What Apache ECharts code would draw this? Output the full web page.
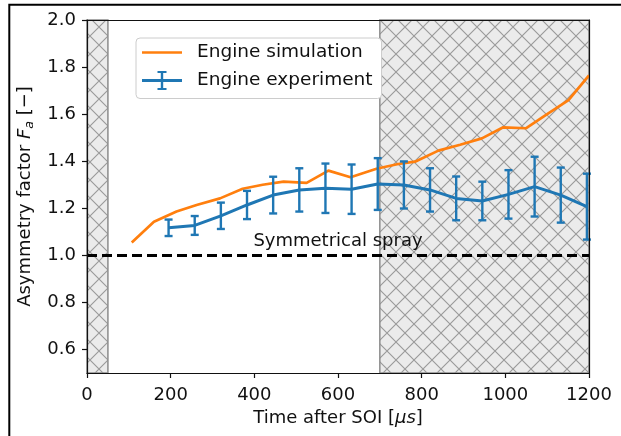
<!DOCTYPE html>
<html>
<head>
<meta charset="utf-8">
<script src="https://cdn.jsdelivr.net/npm/echarts@6/dist/echarts.min.js"></script>
<style>
  html, body { margin: 0; padding: 0; background: #fff; }
  #chart { width: 621px; height: 436px; }
</style>
</head>
<body>
<div id="chart"></div>
<script>
// Simulated asymmetry factor over time after start of injection
const simTime   = [107, 160, 214, 262, 318, 372, 420, 470, 525, 577, 630, 692, 744, 784, 840, 892, 944, 995, 1049, 1100, 1151, 1200];
const simFactor = [1.055, 1.143, 1.186, 1.214, 1.242, 1.283, 1.300, 1.313, 1.308, 1.360, 1.332, 1.368, 1.388, 1.398, 1.445, 1.470, 1.497, 1.544, 1.540, 1.600, 1.660, 1.765];

// Measured asymmetry factor with its uncertainty
const expTime   = [195, 257.5, 320, 382.5, 445, 507.5, 570, 632.5, 695, 757.5, 820, 882.5, 945, 1007.5, 1070, 1132.5, 1195];
const expFactor = [1.117, 1.127, 1.168, 1.214, 1.256, 1.278, 1.285, 1.281, 1.303, 1.299, 1.278, 1.242, 1.231, 1.259, 1.292, 1.256, 1.207];
const expError  = [0.035, 0.040, 0.056, 0.060, 0.078, 0.092, 0.105, 0.105, 0.110, 0.100, 0.092, 0.093, 0.082, 0.103, 0.127, 0.117, 0.140];

// Reference level and excluded time windows
const symmetricFactor = 1.0;
const shadedWindows = [[0, 50], [700, 1200]];

// Axis ticks
const xTicks = [0, 200, 400, 600, 800, 1000, 1200];
const yTicks = [0.6, 0.8, 1.0, 1.2, 1.4, 1.6, 1.8, 2.0];

const FONT = 'DejaVu Sans';
const INK = '#111';
const BLUE = '#1f77b4';
const ORANGE = '#ff7f0e';

// Cross-hatch tile for the shaded windows
function hatchTile() {
  const s = 18;
  const c = document.createElement('canvas');
  c.width = s; c.height = s;
  const ctx = c.getContext('2d');
  ctx.fillStyle = '#ebebeb';
  ctx.fillRect(0, 0, s, s);
  ctx.strokeStyle = '#9a9a9a';
  ctx.lineWidth = 1.1;
  for (const o of [-s, 0, s]) {
    ctx.beginPath();
    ctx.moveTo(o, 0); ctx.lineTo(o + s, s);
    ctx.moveTo(o + s, 0); ctx.lineTo(o, s);
    ctx.stroke();
  }
  return c;
}
const hatch = { image: hatchTile(), repeat: 'repeat' };

const chart = echarts.init(document.getElementById('chart'), null, { renderer: 'canvas' });

const axisLine = { show: true, onZero: false, lineStyle: { color: INK, width: 1.2 } };
const axisTick = { show: true, inside: false, length: 5, lineStyle: { color: INK, width: 1.2 } };

const option = {
  animation: false,
  backgroundColor: '#fff',
  textStyle: { fontFamily: FONT },
  grid: { left: 87, right: 32, top: 20, bottom: 63, containLabel: false },
  xAxis: [{
    type: 'value', min: 0, max: 1200, interval: 200, z: 10,
    axisLine, axisTick,
    splitLine: { show: false },
    axisLabel: { customValues: xTicks, margin: 13, fontSize: 18, fontFamily: FONT, color: INK, formatter: v => String(v) },
    name: '{a|Time after SOI [}{i|μs}{a|]}',
    nameLocation: 'middle', nameGap: 30,
    nameTextStyle: {
      fontFamily: FONT, fontSize: 18, color: INK, verticalAlign: 'top',
      rich: { a: { fontSize: 18, fontFamily: FONT, color: INK }, i: { fontSize: 18, fontFamily: FONT, fontStyle: 'italic', color: INK } }
    }
  }, {
    type: 'value', position: 'top', min: 0, max: 1200, z: 10,
    axisLine, axisTick: { show: false }, axisLabel: { show: false }, splitLine: { show: false }
  }],
  yAxis: [{
    type: 'value', min: 0.5, max: 2.0, z: 10,
    axisLine, axisTick: Object.assign({ customValues: yTicks }, axisTick),
    splitLine: { show: false },
    axisLabel: { customValues: yTicks, margin: 11, fontSize: 18, fontFamily: FONT, color: INK, formatter: v => v.toFixed(1) },
    name: '{a|Asymmetry factor }{f|F}{s|a}{a| [−]}',
    nameLocation: 'middle', nameGap: 47, nameRotate: 90,
    nameTextStyle: {
      fontFamily: FONT, fontSize: 18, color: INK,
      rich: {
        a: { fontSize: 18, fontFamily: FONT, color: INK, lineHeight: 22 },
        f: { fontSize: 18, fontFamily: FONT, fontStyle: 'italic', color: INK, lineHeight: 22 },
        s: { fontSize: 12.6, fontFamily: FONT, fontStyle: 'italic', color: INK, lineHeight: 12, verticalAlign: 'bottom' }
      }
    }
  }, {
    type: 'value', position: 'right', min: 0.5, max: 2.0, z: 10,
    axisLine, axisTick: { show: false }, axisLabel: { show: false }, splitLine: { show: false }
  }],
  legend: {
    orient: 'vertical', left: 136, top: 38,
    padding: [3.5, 9, 7, 6], itemGap: 6,
    itemWidth: 40, itemHeight: 20, symbolKeepAspect: true,
    backgroundColor: '#fff', borderColor: '#cccccc', borderWidth: 1, borderRadius: 4,
    selectedMode: false,
    textStyle: { fontFamily: FONT, fontSize: 18.5, color: INK, padding: [0, 0, 0, 10], lineHeight: 22 },
    data: [
      { name: 'Engine simulation', icon: 'path://M0,8.7H40V11.3H0Z' },
      { name: 'Engine experiment', icon: 'path://M0,8.5H40V11.5H0Z M18.8,0.5H21.2V19.5H18.8Z M15.5,0.5H24.5V2.5H15.5Z M15.5,17.5H24.5V19.5H15.5Z' }
    ]
  },
  graphic: [{
    type: 'rect', silent: true, z: 100,
    shape: { x: 9.3, y: 4.7, width: 700, height: 500 },
    style: { fill: null, stroke: '#000', lineWidth: 2 }
  }],
  series: [
    {
      // excluded time windows
      type: 'custom', name: 'windows', silent: true, z: 1,
      data: shadedWindows,
      renderItem(params, api) {
        const p0 = api.coord([api.value(0), 2.0]);
        const p1 = api.coord([api.value(1), 0.5]);
        return {
          type: 'rect',
          shape: { x: p0[0], y: p0[1], width: p1[0] - p0[0], height: p1[1] - p0[1] },
          style: { fill: hatch, stroke: '#8c8c8c', lineWidth: 1.5 }
        };
      },
      encode: { x: [0, 1] }
    },
    {
      type: 'line', name: 'Engine simulation', z: 4,
      data: simTime.map((t, i) => [t, simFactor[i]]),
      showSymbol: false, symbol: 'none',
      lineStyle: { color: ORANGE, width: 2.7 },
      itemStyle: { color: ORANGE },
      markLine: {
        silent: true, symbol: 'none',
        lineStyle: { color: '#000', width: 2.8, type: [10, 5] },
        label: {
          show: true, position: 'insideMiddleTop', distance: 5,
          formatter: 'Symmetrical spray',
          fontFamily: FONT, fontSize: 18, color: INK
        },
        data: [{ yAxis: symmetricFactor }]
      }
    },
    {
      type: 'line', name: 'Engine experiment', z: 5,
      data: expTime.map((t, i) => [t, expFactor[i]]),
      showSymbol: false, symbol: 'none',
      lineStyle: { color: BLUE, width: 3 },
      itemStyle: { color: BLUE }
    },
    {
      type: 'custom', name: 'Engine experiment', z: 5,
      data: expTime.map((t, i) => [t, expFactor[i] - expError[i], expFactor[i] + expError[i]]),
      itemStyle: { color: BLUE },
      renderItem(params, api) {
        const x = api.value(0);
        const lo = api.coord([x, api.value(1)]);
        const hi = api.coord([x, api.value(2)]);
        const cap = 4;
        const style = { stroke: BLUE, lineWidth: 2.4, fill: null };
        return {
          type: 'group',
          children: [
            { type: 'line', shape: { x1: lo[0], y1: lo[1], x2: hi[0], y2: hi[1] }, style },
            { type: 'line', shape: { x1: lo[0] - cap, y1: lo[1], x2: lo[0] + cap, y2: lo[1] }, style },
            { type: 'line', shape: { x1: hi[0] - cap, y1: hi[1], x2: hi[0] + cap, y2: hi[1] }, style }
          ]
        };
      },
      encode: { x: 0, y: [1, 2] }
    }
  ]
};

chart.setOption(option);
</script>
</body>
</html>
